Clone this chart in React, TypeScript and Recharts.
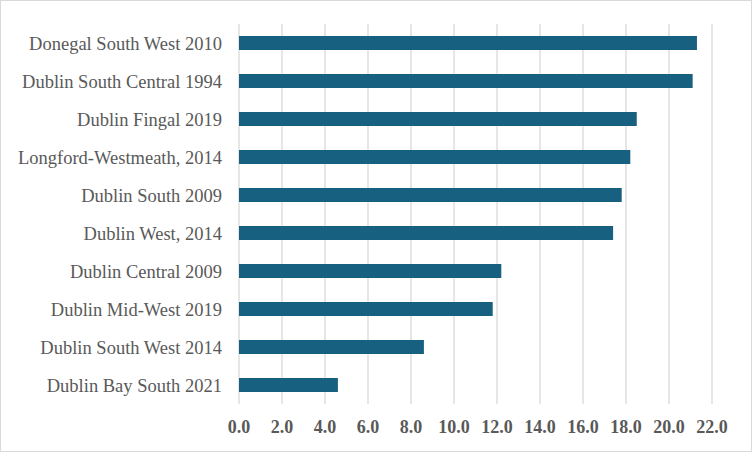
import React from "react";
import { BarChart, Bar, XAxis, YAxis, CartesianGrid } from "recharts";

const categories = [
  "Donegal South West 2010",
  "Dublin South Central 1994",
  "Dublin Fingal 2019",
  "Longford-Westmeath, 2014",
  "Dublin South 2009",
  "Dublin West, 2014",
  "Dublin Central 2009",
  "Dublin Mid-West 2019",
  "Dublin South West 2014",
  "Dublin Bay South 2021",
];
const values = [21.3, 21.1, 18.5, 18.2, 17.8, 17.4, 12.2, 11.8, 8.6, 4.6];
const xTicks = [0, 2, 4, 6, 8, 10, 12, 14, 16, 18, 20, 22];

const data = categories.map((name, i) => ({ name, value: values[i] }));

const FONT = '"Liberation Serif", "Times New Roman", serif';

export default function App() {
  return (
    <div
      style={{
        position: "fixed",
        left: 0,
        top: 0,
        width: 752,
        height: 452,
        boxSizing: "border-box",
        border: "1px solid #d9d9d9",
        background: "#fff",
      }}
    >
      <div style={{ position: "absolute", left: -1, top: -1 }}>
        <BarChart
          width={752}
          height={452}
          data={data}
          layout="vertical"
          margin={{ top: 24, right: 40, bottom: 0, left: 0 }}
        >
          <CartesianGrid horizontal={false} stroke="#d9d9d9" strokeWidth={1.3} />
          <XAxis
            type="number"
            domain={[0, 22]}
            ticks={xTicks}
            interval={0}
            tickFormatter={(v: number) => v.toFixed(1)}
            axisLine={false}
            tickLine={false}
            tickSize={0}
            tickMargin={16}
            height={48}
            tick={{ fill: "#595959", fontSize: 18, fontWeight: "bold", fontFamily: FONT }}
          />
          <YAxis
            type="category"
            dataKey="name"
            width={239}
            axisLine={false}
            tickLine={false}
            tickSize={0}
            tickMargin={17}
            interval={0}
            tick={{ fill: "#595959", fontSize: 18.5, fontFamily: FONT }}
          />
          <Bar dataKey="value" fill="#17607f" barSize={14} isAnimationActive={false} />
        </BarChart>
      </div>
    </div>
  );
}
